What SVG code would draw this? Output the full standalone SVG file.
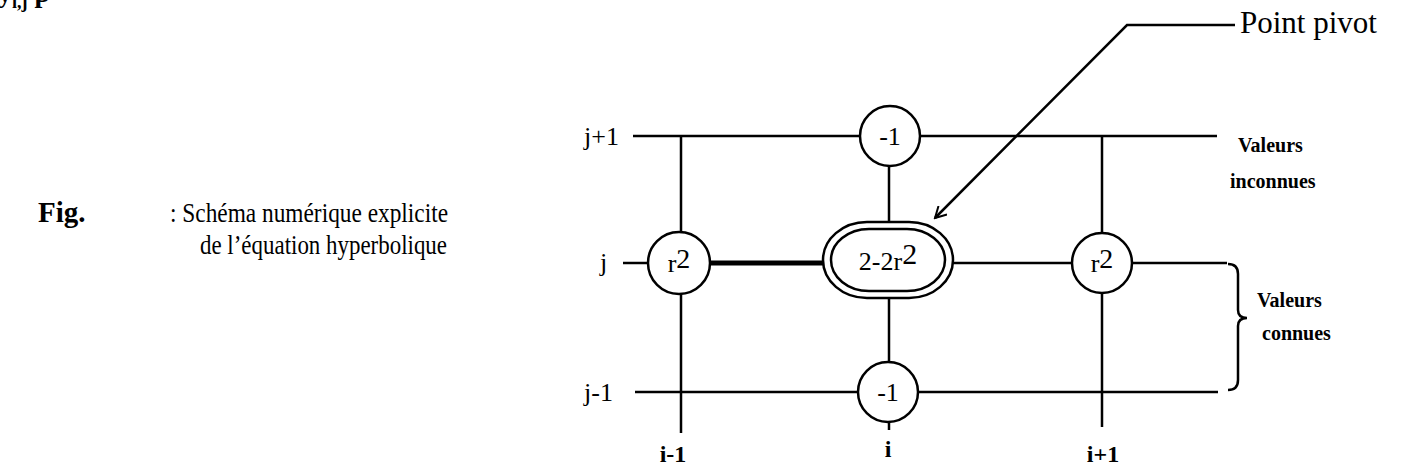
<svg xmlns="http://www.w3.org/2000/svg" width="1401" height="469" viewBox="0 0 1401 469">
<style>
.ln{stroke:#000;stroke-width:2.5;fill:none}
.thick{stroke:#000;stroke-width:5;fill:none}
.nd{fill:#fff;stroke:#000;stroke-width:2.5}
.t{font-family:"Liberation Serif",serif;fill:#000}
.lab{font-family:"Liberation Serif",serif;font-size:26px;fill:#000}
.ax{font-family:"Liberation Serif",serif;font-size:24px;font-weight:bold;fill:#000}
.val{font-family:"Liberation Serif",serif;font-size:20px;font-weight:bold;fill:#000}
.num{font-family:"Liberation Serif",serif;font-size:26px;fill:#000;text-anchor:middle}
</style>
<defs>
<marker id="arr" markerWidth="14" markerHeight="14" refX="12" refY="7" orient="auto" markerUnits="userSpaceOnUse">
<path d="M1,1 L12,7 L1,13" fill="none" stroke="#000" stroke-width="2"/>
</marker>
</defs>
<rect width="1401" height="469" fill="#fff"/>
<g id="heading">
<text class="t" x="-2" y="2" font-size="28" font-weight="bold">y<tspan font-size="18" dy="6">i,j</tspan><tspan dy="-6"> p</tspan></text>
</g>
<g id="caption">
<text class="t" x="38" y="222" font-size="29" font-weight="bold">Fig.</text>
<text class="t" x="170" y="222" font-size="27" textLength="278" lengthAdjust="spacingAndGlyphs">: Schéma numérique explicite</text>
<text class="t" x="200" y="254" font-size="27" textLength="247" lengthAdjust="spacingAndGlyphs">de l’équation hyperbolique</text>
</g>
<g id="connectors">
<line class="ln" x1="633" y1="136" x2="1217" y2="136"/>
<line class="ln" x1="623" y1="263" x2="650" y2="263"/>
<line class="thick" x1="708" y1="263" x2="825" y2="263"/>
<line class="ln" x1="952" y1="263" x2="1227" y2="263"/>
<line class="ln" x1="635" y1="392" x2="1218" y2="392"/>
<line class="ln" x1="681" y1="136" x2="681" y2="433"/>
<line class="ln" x1="1102" y1="136" x2="1102" y2="427"/>
<line class="ln" x1="889" y1="165" x2="889" y2="224"/>
<line class="ln" x1="889" y1="297" x2="889" y2="364"/>
<line class="ln" x1="889" y1="420" x2="889" y2="430"/>
<polyline class="ln" points="1235,25 1127,25 935,218" stroke-width="2" marker-end="url(#arr)"/>
<path class="ln" d="M1228,264 Q1238,264 1238,274 L1238,310 Q1238,318 1247,318 Q1238,318 1238,326 L1238,380 Q1238,390 1228,390"/>
</g>
<g id="node-top">
<circle class="nd" cx="890" cy="136" r="30"/>
<text class="num" x="890" y="145">-1</text>
</g>
<g id="node-left">
<circle class="nd" cx="679" cy="263" r="31"/>
<text class="num" x="679" y="272">r<tspan font-size="28" dy="-4">2</tspan></text>
</g>
<g id="node-pivot">
<rect class="nd" x="823" y="222" width="130" height="76" rx="44" ry="38"/>
<rect class="nd" x="831" y="229" width="114" height="62" rx="38" ry="31"/>
<text class="num" x="888" y="270">2-2r<tspan font-size="30" dy="-6">2</tspan></text>
</g>
<g id="node-right">
<circle class="nd" cx="1102" cy="263" r="30"/>
<text class="num" x="1102" y="272">r<tspan font-size="28" dy="-4">2</tspan></text>
</g>
<g id="node-bottom">
<circle class="nd" cx="888" cy="392" r="30"/>
<text class="num" x="888" y="401">-1</text>
</g>
<g id="labels">
<text class="lab" x="584" y="145">j+1</text>
<text class="lab" x="600" y="271">j</text>
<text class="lab" x="584" y="401">j-1</text>
<text class="ax" x="673" y="462" text-anchor="middle">i-1</text>
<text class="ax" x="888" y="457" text-anchor="middle">i</text>
<text class="ax" x="1103" y="462" text-anchor="middle">i+1</text>
<text class="t" x="1240" y="33" font-size="31">Point pivot</text>
<text class="val" x="1238" y="152">Valeurs</text>
<text class="val" x="1230" y="188">inconnues</text>
<text class="val" x="1257" y="307">Valeurs</text>
<text class="val" x="1262" y="340">connues</text>
</g>
</svg>
